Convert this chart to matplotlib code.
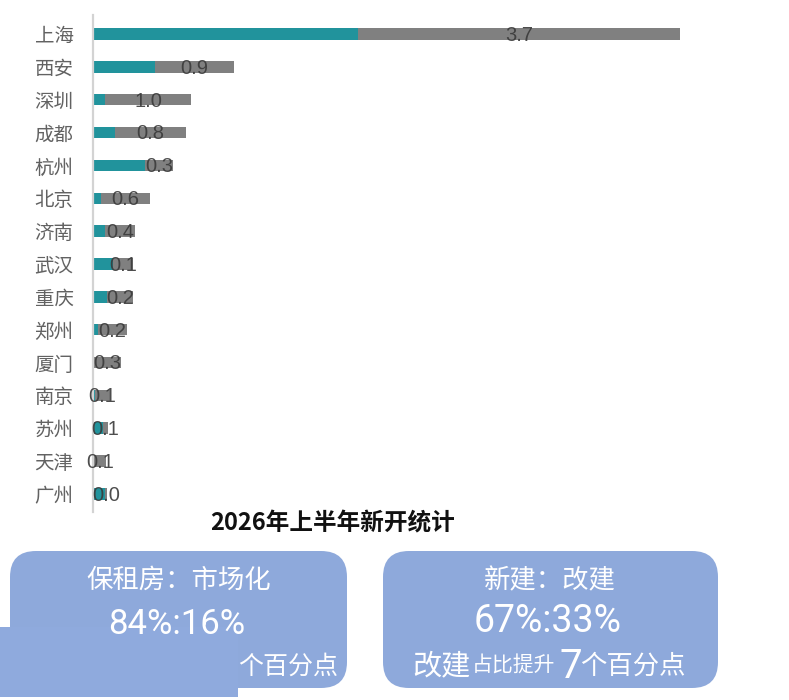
import matplotlib
matplotlib.use("Agg")
import matplotlib.pyplot as plt
from matplotlib.patches import FancyBboxPatch, Rectangle

plt.rcParams['font.family'] = ['Noto Sans CJK SC', 'DejaVu Sans']

# 城市及两段数值
cities = ["上海", "西安", "深圳", "成都", "杭州", "北京", "济南", "武汉",
          "重庆", "郑州", "厦门", "南京", "苏州", "天津", "广州"]
part_a = [3.05, 0.71, 0.14, 0.25, 0.60, 0.09, 0.14, 0.23,
          0.16, 0.06, 0.01, 0.02, 0.11, 0.01, 0.14]
part_b = [3.70, 0.91, 0.99, 0.82, 0.32, 0.57, 0.34, 0.23,
          0.30, 0.33, 0.31, 0.17, 0.06, 0.14, 0.02]
bar_labels = [3.7, 0.9, 1.0, 0.8, 0.3, 0.6, 0.4, 0.1,
              0.2, 0.2, 0.3, 0.1, 0.1, 0.1, 0.0]

title = "2026年上半年新开统计"
left_head, left_ratio, left_note = "保租房：市场化", "84%:16%", "个百分点"
right_head, right_ratio = "新建：改建", "67%:33%"
right_note = ["改建", "占比提升", "7", "个百分点"]

W, H = 789, 700
teal = "#21939C"
grey = "#808080"
box_blue = "#8EA9DB"

fig = plt.figure(figsize=(W / 100, H / 100), dpi=100)

# bar chart
ax = fig.add_axes([93 / W, (H - 512) / H, (760 - 93) / W, (512 - 15) / H])
y = list(range(len(cities)))
ax.barh(y, part_a, height=0.35, color=teal)
ax.barh(y, part_b, left=part_a, height=0.35, color=grey)
for i in y:
    cx = part_a[i] + part_b[i] / 2
    ax.text(cx, i + 0.04, f"{bar_labels[i]:.1f}", ha="center", va="center",
            fontsize=14.5, color="#3a3a3a", alpha=0.9,
            family=["Liberation Sans", "DejaVu Sans"])

ax.set_xlim(0, 667 / 87)
ax.set_ylim(14.55, -0.58)
ax.set_yticks(y)
ax.set_yticklabels(cities, fontsize=14, color="#626262")
ax.tick_params(axis="y", length=0, pad=14)
ax.set_xticks([])
for s in ["top", "right", "bottom"]:
    ax.spines[s].set_visible(False)
ax.spines["left"].set_color("#D3D3D3")
ax.spines["left"].set_linewidth(1.6)

# overlay in pixel coordinates for title and boxes
ov = fig.add_axes([0, 0, 1, 1])
ov.set_xlim(0, W)
ov.set_ylim(H, 0)
ov.axis("off")
ov.patch.set_alpha(0)

ov.text(333, 523, title, ha="center", va="center", fontsize=17, fontweight="bold", color="#111111")

for x0, x1 in [(10, 347), (383, 718)]:
    ov.add_patch(FancyBboxPatch((x0, 551), x1 - x0, 137,
                                boxstyle="round,pad=0,rounding_size=26",
                                facecolor=box_blue, edgecolor="none"))

digits = ["Roboto", "DejaVu Sans"]

# left box
ov.text(179, 580, left_head, ha="center", va="center", fontsize=19, color="white")
ov.text(177, 625, left_ratio, ha="center", va="center", fontsize=25, color="white", family=digits)
ov.add_patch(Rectangle((0, 627), 238, 70, facecolor="#8FAADD", edgecolor="none"))
ov.text(288, 667, left_note, ha="center", va="center", fontsize=18, color="white")

# right box
ov.text(550, 581, right_head, ha="center", va="center", fontsize=19, color="white")
ov.text(548, 622, right_ratio, ha="center", va="center", fontsize=27, color="white", family=digits)
note_x = [412, 472, 560, 580]
note_size = [21, 15, 29, 19]
for txt, nx, fs in zip(right_note, note_x, note_size):
    fam = digits if txt.isdigit() else ['Noto Sans CJK SC', 'DejaVu Sans']
    ov.text(nx, 666, txt, ha="left", va="center", fontsize=fs, color="white", family=fam)

fig.savefig("out.png", dpi=100)
